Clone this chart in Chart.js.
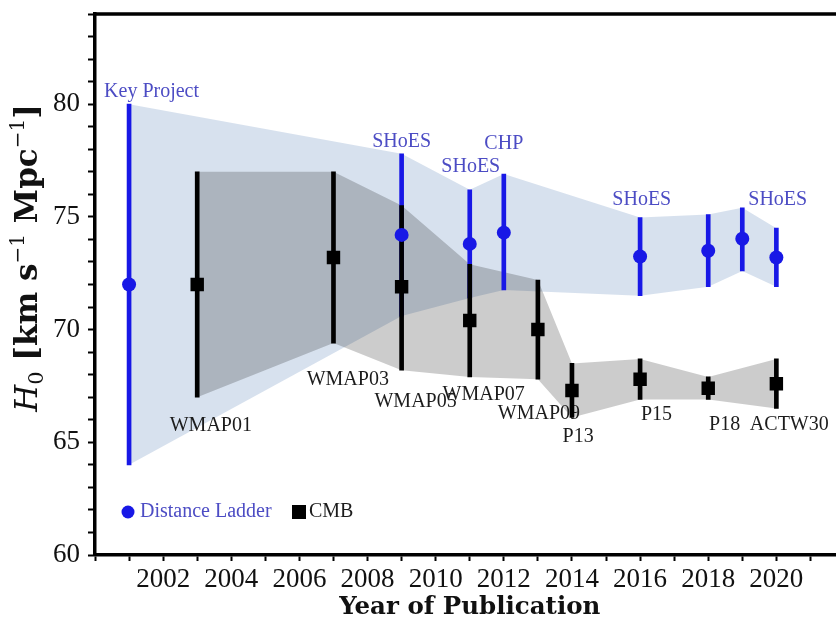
<!DOCTYPE html>
<html>
<head>
<meta charset="utf-8">
<script src="https://cdn.jsdelivr.net/npm/chart.js@4.4.1/dist/chart.umd.min.js"></script>
<style>
  html, body { margin: 0; padding: 0; background: #fff; overflow: hidden; }
  #wrap { width: 854px; height: 622px; }
</style>
</head>
<body>
<div id="wrap"><canvas id="h0chart"></canvas></div>
<script>
'use strict';

// Distance ladder (blue): year, central value, error bar ends
const DL_YEARS = [2001, 2009, 2011, 2012, 2016, 2018, 2019, 2020];
const DL_H0    = [72.0, 74.2, 73.8, 74.3, 73.24, 73.5, 74.03, 73.2];
const DL_LOW   = [64.0, 70.6, 71.4, 71.76, 71.5, 71.9, 72.6, 71.9];
const DL_HIGH  = [80.0, 77.8, 76.2, 76.9, 74.97, 75.1, 75.4, 74.5];

// CMB (black)
const CMB_YEARS = [2003, 2007, 2009, 2011, 2013, 2014, 2016, 2018, 2020];
const CMB_H0    = [72.0, 73.2, 71.9, 70.4, 70.0, 67.3, 67.8, 67.4, 67.6];
const CMB_LOW   = [67.0, 69.4, 68.2, 67.9, 67.8, 66.1, 66.9, 66.9, 66.5];
const CMB_HIGH  = [77.0, 77.0, 75.5, 72.9, 72.2, 68.5, 68.7, 67.9, 68.7];

// point names and where they sit (year, H0)
const DL_NAMES     = ['Key Project', 'SHoES', 'SHoES', 'CHP', 'SHoES', 'SHoES'];
const DL_NAME_YEAR = [2001.66, 2009.0, 2011.03, 2012.0, 2016.05, 2020.04];
const DL_NAME_H0   = [80.53, 78.35, 77.22, 78.24, 75.76, 75.76];

const CMB_NAMES     = ['WMAP01', 'WMAP03', 'WMAP05', 'WMAP07', 'WMAP09', 'P13', 'P15', 'P18', 'ACTW30'];
const CMB_NAME_YEAR = [2003.4, 2007.42, 2009.41, 2011.41, 2013.03, 2014.18, 2016.48, 2018.48, 2020.38];
const CMB_NAME_H0   = [65.75, 67.76, 66.79, 67.09, 66.28, 65.24, 66.23, 65.76, 65.76];

const X_TICK_LABELS = [2002, 2004, 2006, 2008, 2010, 2012, 2014, 2016, 2018, 2020];
const Y_TICK_LABELS = [60, 65, 70, 75, 80];

const BLUE = '#1818e6';
const NAME_BLUE = '#4c4cc4';
const BAND_BLUE = 'rgba(176, 196, 222, 0.5)';
const BAND_GREY = 'rgba(0, 0, 0, 0.2)';
const SERIF = '"Liberation Serif", "Times New Roman", serif';
const TITLE_SERIF = '"DejaVu Serif", serif';

const toPts = (xs, ys) => xs.map((x, i) => ({x: x, y: ys[i]}));
const toBars = (xs, lo, hi) => xs.map((x, i) => ({x: x, y: [lo[i], hi[i]]}));

// names are drawn just before the error bars, so bars sit over them
const namesPlugin = {
  id: 'names',
  beforeDatasetDraw(chart, args) {
    if (args.index !== 4) return;
    const ctx = chart.ctx;
    const sx = chart.scales.x, sy = chart.scales.y;
    ctx.save();
    ctx.textAlign = 'center';
    ctx.textBaseline = 'middle';
    ctx.font = '20px ' + SERIF;
    ctx.fillStyle = NAME_BLUE;
    DL_NAMES.forEach((n, i) => {
      ctx.fillText(n, sx.getPixelForValue(DL_NAME_YEAR[i]), sy.getPixelForValue(DL_NAME_H0[i]));
    });
    ctx.fillStyle = '#1c1c1c';
    CMB_NAMES.forEach((n, i) => {
      ctx.fillText(n, sx.getPixelForValue(CMB_NAME_YEAR[i]), sy.getPixelForValue(CMB_NAME_H0[i]));
    });
    ctx.restore();
  }
};

// legend in the lower left corner of the plot
const legendPlugin = {
  id: 'cornerLegend',
  afterDatasetsDraw(chart) {
    const ctx = chart.ctx;
    const area = chart.chartArea;
    const y = area.bottom - 43;
    let x = area.left + 33;
    ctx.save();
    ctx.font = '20px ' + SERIF;
    ctx.textBaseline = 'middle';
    ctx.fillStyle = BLUE;
    ctx.beginPath();
    ctx.arc(x, y, 6.5, 0, Math.PI * 2);
    ctx.fill();
    ctx.fillStyle = NAME_BLUE;
    ctx.fillText('Distance Ladder', x + 12, y);
    x = area.left + 204;
    ctx.fillStyle = '#000';
    ctx.fillRect(x - 7, y - 7, 14, 14);
    ctx.fillStyle = '#1c1c1c';
    ctx.fillText('CMB', x + 10, y);
    ctx.restore();
  }
};

// frame on top (and right) of the plot
const framePlugin = {
  id: 'frame',
  afterDraw(chart) {
    const ctx = chart.ctx;
    const a = chart.chartArea;
    ctx.save();
    ctx.strokeStyle = '#000';
    ctx.lineWidth = 3.5;
    ctx.beginPath();
    ctx.moveTo(a.left - 1.5, a.top);
    ctx.lineTo(a.right, a.top);
    ctx.lineTo(a.right, a.bottom);
    ctx.stroke();
    ctx.restore();
  }
};

// y title with italic H, subscript and superscripts
const yTitlePlugin = {
  id: 'yTitle',
  afterDraw(chart) {
    const ctx = chart.ctx;
    const parts = [
      {t: 'H', f: 'italic 31px ' + TITLE_SERIF, dy: 0},
      {t: '0', f: '21px ' + TITLE_SERIF, dy: 6},
      {t: ' [km s', f: 'bold 31px ' + TITLE_SERIF, dy: 0},
      {t: '\u22121', f: '20px ' + TITLE_SERIF, dy: -13},
      {t: ' Mpc', f: 'bold 31px ' + TITLE_SERIF, dy: 0},
      {t: '\u22121', f: '20px ' + TITLE_SERIF, dy: -13},
      {t: ']', f: 'bold 31px ' + TITLE_SERIF, dy: 0}
    ];
    ctx.save();
    let total = 0;
    parts.forEach(p => { ctx.font = p.f; p.w = ctx.measureText(p.t).width; total += p.w; });
    ctx.translate(37, 258);
    ctx.rotate(-Math.PI / 2);
    ctx.fillStyle = '#111';
    ctx.textBaseline = 'alphabetic';
    let x = -total / 2;
    parts.forEach(p => { ctx.font = p.f; ctx.fillText(p.t, x, p.dy); x += p.w; });
    ctx.restore();
  }
};

new Chart(document.getElementById('h0chart'), {
  type: 'scatter',
  data: {
    datasets: [
      // 0,1: distance ladder band
      {type: 'line', data: toPts(DL_YEARS, DL_HIGH), fill: '+1', backgroundColor: BAND_BLUE,
        borderColor: 'rgba(0,0,0,0)', borderWidth: 0, pointRadius: 0, tension: 0, order: 60},
      {type: 'line', data: toPts(DL_YEARS, DL_LOW), fill: false,
        borderColor: 'rgba(0,0,0,0)', borderWidth: 0, pointRadius: 0, tension: 0, order: 59},
      // 2,3: CMB band
      {type: 'line', data: toPts(CMB_YEARS, CMB_HIGH), fill: '+1', backgroundColor: BAND_GREY,
        borderColor: 'rgba(0,0,0,0)', borderWidth: 0, pointRadius: 0, tension: 0, order: 58},
      {type: 'line', data: toPts(CMB_YEARS, CMB_LOW), fill: false,
        borderColor: 'rgba(0,0,0,0)', borderWidth: 0, pointRadius: 0, tension: 0, order: 57},
      // 4,5: error bars
      {type: 'bar', data: toBars(DL_YEARS, DL_LOW, DL_HIGH), backgroundColor: BLUE,
        barThickness: 4, grouped: false, borderWidth: 0, order: 40},
      {type: 'bar', data: toBars(CMB_YEARS, CMB_LOW, CMB_HIGH), backgroundColor: '#000',
        barThickness: 4, grouped: false, borderWidth: 0, order: 30},
      // 6,7: markers
      {type: 'scatter', data: toPts(DL_YEARS, DL_H0), pointStyle: 'circle', pointRadius: 7,
        backgroundColor: BLUE, borderWidth: 0, order: 20},
      {type: 'scatter', data: toPts(CMB_YEARS, CMB_H0), pointStyle: 'rect', pointRadius: 9.5,
        backgroundColor: '#000', borderWidth: 0, order: 10}
    ]
  },
  options: {
    responsive: true,
    maintainAspectRatio: false,
    animation: false,
    layout: {padding: {top: 14, right: 0, bottom: 0, left: 0}},
    plugins: {legend: {display: false}, tooltip: {enabled: false}},
    scales: {
      x: {
        type: 'linear', min: 2000, max: 2022, offset: false,
        ticks: {
          stepSize: 1, autoSkip: false, maxRotation: 0, padding: 3, color: '#111',
          font: {family: SERIF, size: 27},
          callback: (v) => X_TICK_LABELS.includes(Math.round(v)) ? String(Math.round(v)) : ''
        },
        grid: {offset: false, drawOnChartArea: false, tickLength: 6, tickWidth: 2, tickColor: '#000'},
        border: {display: true, width: 3.5, color: '#000'},
        title: {display: true, text: 'Year of Publication', color: '#111',
          font: {family: TITLE_SERIF, size: 24.5, weight: 'bold'}, padding: {top: 0, bottom: 0}},
        afterFit(scale) {
          scale.height = 67;
          scale.paddingLeft = 0;
          scale.paddingRight = 0;
        }
      },
      y: {
        type: 'linear', min: 60, max: 84,
        ticks: {
          stepSize: 1, autoSkip: false, padding: 8, color: '#111',
          font: {family: SERIF, size: 27},
          callback: (v) => Y_TICK_LABELS.includes(Math.round(v)) ? String(Math.round(v)) : ''
        },
        grid: {offset: false, drawOnChartArea: false, tickLength: 7, tickWidth: 2, tickColor: '#000'},
        border: {display: true, width: 3.5, color: '#000'},
        afterFit(scale) {
          scale.width = 95;
          scale.paddingTop = 0;
          scale.paddingBottom = 0;
        }
      }
    }
  },
  plugins: [namesPlugin, legendPlugin, framePlugin, yTitlePlugin]
});
</script>
</body>
</html>
